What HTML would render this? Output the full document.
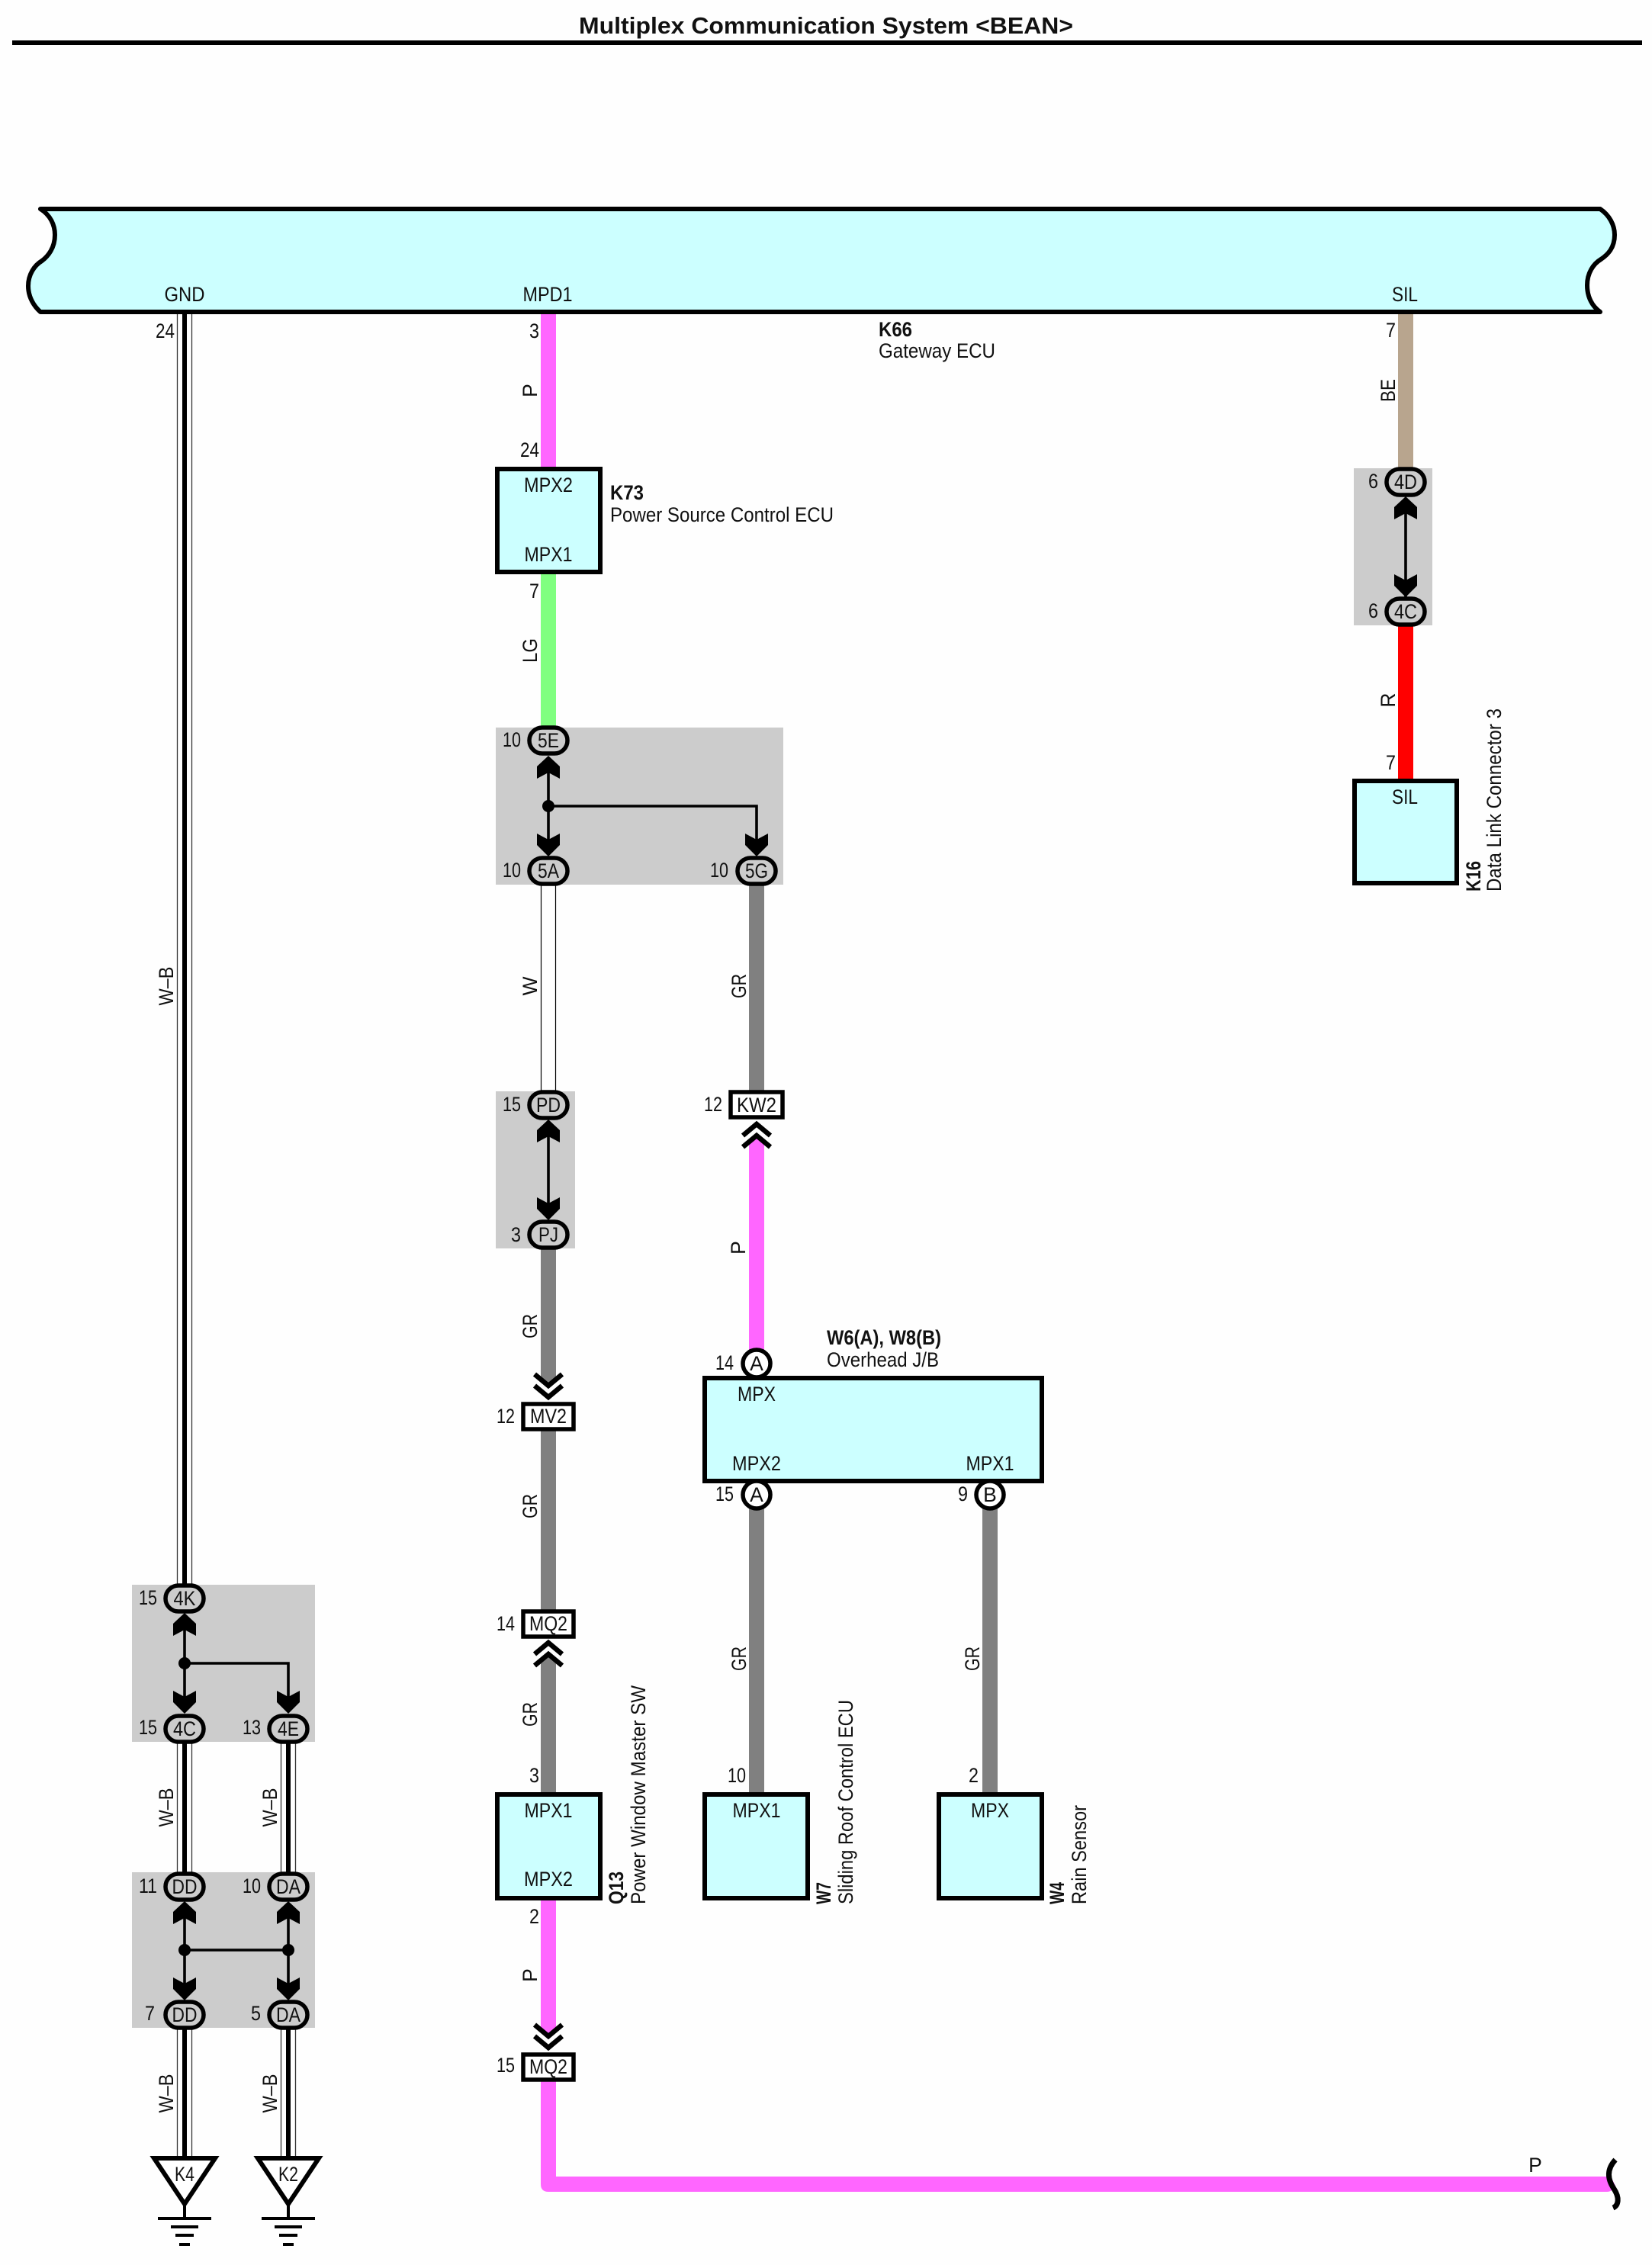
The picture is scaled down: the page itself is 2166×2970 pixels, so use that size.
<!DOCTYPE html>
<html><head><meta charset="utf-8"><style>
html,body{margin:0;padding:0;background:#fefefe}
svg{display:block}
text{font-family:"Liberation Sans",sans-serif;font-size:26.5px;fill:#111}
.m{text-anchor:middle}.e{text-anchor:end}.b{font-weight:bold}
</style></head><body>
<svg width="2166" height="2970" viewBox="0 0 2166 2970" xmlns="http://www.w3.org/2000/svg">
<defs>
<polygon id="au" points="0,0 15,14 15,30 0,22 -15,30 -15,14" fill="#000"/>
<polygon id="ad" points="0,0 15,-15 15,-30 0,-22 -15,-30 -15,-15" fill="#000"/>
<g id="cd" fill="none" stroke="#000" stroke-width="6.5"><polyline points="-18,-20 0,-5 18,-20"/><polyline points="-18,-35 0,-20 18,-35"/></g>
<g id="cu" fill="none" stroke="#000" stroke-width="6.5"><polyline points="-18,20 0,5 18,20"/><polyline points="-18,35 0,20 18,35"/></g>
<rect id="ov" x="-25" y="-17" width="50" height="34" rx="17" fill="#ccc" stroke="#000" stroke-width="5.5"/>
<g id="gnd"><polygon points="-40,0 40,0 0,60" fill="#fff" stroke="#000" stroke-width="6"/><path d="M0 60V79" stroke="#000" stroke-width="4"/><path d="M-35 79H35" stroke="#000" stroke-width="4"/><path d="M-18 90H18" stroke="#000" stroke-width="4"/><path d="M-12 101H12" stroke="#000" stroke-width="4"/><path d="M-7 113H7" stroke="#000" stroke-width="4"/></g>
</defs>
<rect width="2166" height="2970" fill="#fefefe"/>
<text x="1083" y="44" class="m b" style="font-size:31px" textLength="648" lengthAdjust="spacingAndGlyphs">Multiplex Communication System &lt;BEAN&gt;</text>
<rect x="16" y="53" width="2137" height="6" fill="#000"/>

<!-- grey groups -->
<rect x="650" y="954" width="377" height="206" fill="#ccc"/>
<rect x="650" y="1431" width="104" height="206" fill="#ccc"/>
<rect x="1775" y="614" width="103" height="206" fill="#ccc"/>
<rect x="173" y="2078" width="240" height="206" fill="#ccc"/>
<rect x="173" y="2455" width="240" height="204" fill="#ccc"/>

<!-- coloured wires -->
<rect x="709" y="409" width="20" height="205" fill="#ff66ff"/>
<rect x="709" y="750" width="20" height="204" fill="#80ff80"/>
<rect x="982" y="1160" width="20" height="270" fill="#808080"/>
<path d="M709 1638V1806L719 1817L729 1806V1638Z" fill="#808080"/>
<rect x="709" y="1876" width="20" height="236" fill="#808080"/>
<path d="M709 2352V2180L719 2169L729 2180V2352Z" fill="#808080"/>
<path d="M982 1784V1500L992 1489L1002 1500V1784Z" fill="#ff66ff"/>
<rect x="982" y="1978" width="20" height="374" fill="#808080"/>
<rect x="1288" y="1978" width="20" height="374" fill="#808080"/>
<path d="M709 2490V2659L719 2670L729 2659V2490Z" fill="#ff66ff"/>
<path d="M709 2729V2864Q709 2874 719 2874H2107Q2114 2874 2118 2866L2112 2854H729V2729Z" fill="#ff66ff"/>
<rect x="1833" y="409" width="20" height="206" fill="#b8a58e"/>
<rect x="1833" y="820" width="20" height="204" fill="#ff0000"/>

<!-- white wire -->
<g fill="#fff" stroke="#000" stroke-width="1.2"><rect x="709.5" y="1158" width="19" height="274"/></g>
<!-- W-B wires -->
<g fill="#fff" stroke="#333" stroke-width="1.3">
<rect x="232.5" y="409" width="19" height="1670"/>
<rect x="232.5" y="2284" width="19" height="172"/>
<rect x="368.5" y="2284" width="19" height="172"/>
<rect x="232.5" y="2659" width="19" height="172"/>
<rect x="368.5" y="2659" width="19" height="172"/>
</g>
<g fill="#000">
<rect x="239" y="409" width="6" height="1670"/>
<rect x="239" y="2284" width="6" height="172"/>
<rect x="375" y="2284" width="6" height="172"/>
<rect x="239" y="2659" width="6" height="172"/>
<rect x="375" y="2659" width="6" height="172"/>
</g>

<!-- main bus -->
<path d="M53 274H2098C2110 282 2117 295 2117 308C2117 325 2108 334 2099 340C2089 346 2081 358 2081 374C2081 390 2088 402 2098 409H53C45 402 37 390 37 375C37 360 45 348 55 342C63 336 72 325 72 308C72 295 66 282 53 274Z" fill="#ccffff" stroke="#000" stroke-width="6" stroke-linejoin="round"/>

<!-- boxes -->
<g fill="#ccffff" stroke="#000" stroke-width="6">
<rect x="652" y="615" width="135" height="135"/>
<rect x="924" y="1807" width="442" height="135"/>
<rect x="652" y="2353" width="135" height="136"/>
<rect x="924" y="2353" width="135" height="136"/>
<rect x="1231" y="2353" width="135" height="136"/>
<rect x="1776" y="1024" width="134" height="134"/>
</g>
<g fill="#fff" stroke="#000" stroke-width="5.5">
<rect x="686" y="1841" width="66" height="33"/>
<rect x="958" y="1432" width="68" height="33"/>
<rect x="686" y="2113" width="66" height="33"/>
<rect x="686" y="2694" width="66" height="33"/>
<circle cx="992" cy="1788" r="18"/>
<circle cx="992" cy="1960" r="18"/>
<circle cx="1298" cy="1960" r="18"/>
</g>

<!-- internal splices -->
<g stroke="#000" fill="none">
<path d="M719 1000V1110M992 1110V1057H719" stroke-width="3.6"/>
<path d="M719 1480V1590" stroke-width="3.6"/>
<path d="M1843 660V790" stroke-width="3.6"/>
<path d="M242 2125V2235M378 2235V2181H242" stroke-width="3.6"/>
<path d="M242 2503V2610M378 2503V2610M242 2557H378" stroke-width="3.6"/>
</g>
<g fill="#000">
<circle cx="719" cy="1057" r="8"/><circle cx="242" cy="2181" r="8"/><circle cx="242" cy="2557" r="8"/><circle cx="378" cy="2557" r="8"/>
</g>
<use href="#au" x="719" y="991"/><use href="#ad" x="719" y="1123"/><use href="#ad" x="992" y="1123"/>
<use href="#au" x="719" y="1468"/><use href="#ad" x="719" y="1600"/>
<use href="#au" x="1843" y="651"/><use href="#ad" x="1843" y="783"/>
<use href="#au" x="242" y="2115"/><use href="#ad" x="242" y="2247"/><use href="#ad" x="378" y="2247"/>
<use href="#au" x="242" y="2493"/><use href="#au" x="378" y="2493"/><use href="#ad" x="242" y="2623"/><use href="#ad" x="378" y="2623"/>

<use href="#ov" x="719" y="971"/><use href="#ov" x="719" y="1142"/><use href="#ov" x="992" y="1142"/>
<use href="#ov" x="719" y="1449"/><use href="#ov" x="719" y="1619"/>
<use href="#ov" x="1843" y="632"/><use href="#ov" x="1843" y="802"/>
<use href="#ov" x="242" y="2096"/><use href="#ov" x="242" y="2267"/><use href="#ov" x="378" y="2267"/>
<use href="#ov" x="242" y="2474"/><use href="#ov" x="378" y="2474"/><use href="#ov" x="242" y="2642"/><use href="#ov" x="378" y="2642"/>

<use href="#cd" x="719" y="1837"/><use href="#cu" x="992" y="1469"/><use href="#cu" x="719" y="2149"/><use href="#cd" x="719" y="2690"/>

<use href="#gnd" x="242" y="2830"/><use href="#gnd" x="378" y="2830"/>
<path d="M2118 2832C2106 2845 2108 2858 2116 2870C2124 2882 2122 2892 2115 2895" fill="none" stroke="#000" stroke-width="7"/>

<!-- bus labels -->
<text x="242" y="395" class="m" textLength="53" lengthAdjust="spacingAndGlyphs">GND</text>
<text x="718" y="395" class="m" textLength="65" lengthAdjust="spacingAndGlyphs">MPD1</text>
<text x="1842" y="395" class="m" textLength="34" lengthAdjust="spacingAndGlyphs">SIL</text>
<text x="1152" y="441" class="b" textLength="44" lengthAdjust="spacingAndGlyphs">K66</text>
<text x="1152" y="469" textLength="153" lengthAdjust="spacingAndGlyphs">Gateway ECU</text>
<text x="800" y="655" class="b" textLength="44" lengthAdjust="spacingAndGlyphs">K73</text>
<text x="800" y="684" textLength="293" lengthAdjust="spacingAndGlyphs">Power Source Control ECU</text>

<!-- pin numbers -->
<g class="pins">
<text x="229" y="443" class="e" textLength="25" lengthAdjust="spacingAndGlyphs">24</text>
<text x="707" y="443" class="e" textLength="13" lengthAdjust="spacingAndGlyphs">3</text>
<text x="707" y="599" class="e" textLength="25" lengthAdjust="spacingAndGlyphs">24</text>
<text x="707" y="784" class="e" textLength="13" lengthAdjust="spacingAndGlyphs">7</text>
<text x="683" y="979" class="e" textLength="24" lengthAdjust="spacingAndGlyphs">10</text>
<text x="683" y="1150" class="e" textLength="24" lengthAdjust="spacingAndGlyphs">10</text>
<text x="955" y="1150" class="e" textLength="24" lengthAdjust="spacingAndGlyphs">10</text>
<text x="683" y="1457" class="e" textLength="24" lengthAdjust="spacingAndGlyphs">15</text>
<text x="683" y="1628" class="e" textLength="13" lengthAdjust="spacingAndGlyphs">3</text>
<text x="675" y="1866" class="e" textLength="24" lengthAdjust="spacingAndGlyphs">12</text>
<text x="947" y="1457" class="e" textLength="24" lengthAdjust="spacingAndGlyphs">12</text>
<text x="962" y="1796" class="e" textLength="24" lengthAdjust="spacingAndGlyphs">14</text>
<text x="962" y="1968" class="e" textLength="24" lengthAdjust="spacingAndGlyphs">15</text>
<text x="1269" y="1968" class="e" textLength="13" lengthAdjust="spacingAndGlyphs">9</text>
<text x="675" y="2138" class="e" textLength="24" lengthAdjust="spacingAndGlyphs">14</text>
<text x="707" y="2337" class="e" textLength="13" lengthAdjust="spacingAndGlyphs">3</text>
<text x="978" y="2337" class="e" textLength="24" lengthAdjust="spacingAndGlyphs">10</text>
<text x="1283" y="2337" class="e" textLength="13" lengthAdjust="spacingAndGlyphs">2</text>
<text x="707" y="2522" class="e" textLength="13" lengthAdjust="spacingAndGlyphs">2</text>
<text x="675" y="2717" class="e" textLength="24" lengthAdjust="spacingAndGlyphs">15</text>
<text x="1830" y="442" class="e" textLength="13" lengthAdjust="spacingAndGlyphs">7</text>
<text x="1807" y="640" class="e" textLength="13" lengthAdjust="spacingAndGlyphs">6</text>
<text x="1807" y="810" class="e" textLength="13" lengthAdjust="spacingAndGlyphs">6</text>
<text x="1830" y="1009" class="e" textLength="13" lengthAdjust="spacingAndGlyphs">7</text>
<text x="206" y="2104" class="e" textLength="24" lengthAdjust="spacingAndGlyphs">15</text>
<text x="206" y="2274" class="e" textLength="24" lengthAdjust="spacingAndGlyphs">15</text>
<text x="342" y="2274" class="e" textLength="24" lengthAdjust="spacingAndGlyphs">13</text>
<text x="206" y="2482" class="e" textLength="24" lengthAdjust="spacingAndGlyphs">11</text>
<text x="342" y="2482" class="e" textLength="24" lengthAdjust="spacingAndGlyphs">10</text>
<text x="203" y="2649" class="e" textLength="13" lengthAdjust="spacingAndGlyphs">7</text>
<text x="342" y="2649" class="e" textLength="13" lengthAdjust="spacingAndGlyphs">5</text>
</g>

<!-- connector labels -->
<text x="719" y="980" class="m" textLength="28" lengthAdjust="spacingAndGlyphs">5E</text>
<text x="719" y="1151" class="m" textLength="28" lengthAdjust="spacingAndGlyphs">5A</text>
<text x="992" y="1151" class="m" textLength="30" lengthAdjust="spacingAndGlyphs">5G</text>
<text x="719" y="1458" class="m" textLength="32" lengthAdjust="spacingAndGlyphs">PD</text>
<text x="719" y="1628" class="m" textLength="26" lengthAdjust="spacingAndGlyphs">PJ</text>
<text x="719" y="1866" class="m" textLength="48" lengthAdjust="spacingAndGlyphs">MV2</text>
<text x="992" y="1458" class="m" textLength="52" lengthAdjust="spacingAndGlyphs">KW2</text>
<text x="719" y="2138" class="m" textLength="50" lengthAdjust="spacingAndGlyphs">MQ2</text>
<text x="719" y="2719" class="m" textLength="50" lengthAdjust="spacingAndGlyphs">MQ2</text>
<text x="992" y="1797" class="m">A</text>
<text x="992" y="1969" class="m">A</text>
<text x="1298" y="1969" class="m">B</text>
<text x="1843" y="641" class="m" textLength="30" lengthAdjust="spacingAndGlyphs">4D</text>
<text x="1843" y="811" class="m" textLength="30" lengthAdjust="spacingAndGlyphs">4C</text>
<text x="242" y="2105" class="m" textLength="29" lengthAdjust="spacingAndGlyphs">4K</text>
<text x="242" y="2276" class="m" textLength="30" lengthAdjust="spacingAndGlyphs">4C</text>
<text x="378" y="2276" class="m" textLength="28" lengthAdjust="spacingAndGlyphs">4E</text>
<text x="242" y="2483" class="m" textLength="33" lengthAdjust="spacingAndGlyphs">DD</text>
<text x="378" y="2483" class="m" textLength="32" lengthAdjust="spacingAndGlyphs">DA</text>
<text x="242" y="2651" class="m" textLength="33" lengthAdjust="spacingAndGlyphs">DD</text>
<text x="378" y="2651" class="m" textLength="32" lengthAdjust="spacingAndGlyphs">DA</text>
<text x="242" y="2860" class="m" textLength="26" lengthAdjust="spacingAndGlyphs">K4</text>
<text x="378" y="2860" class="m" textLength="26" lengthAdjust="spacingAndGlyphs">K2</text>

<!-- box labels -->
<text x="719" y="645" class="m" textLength="64" lengthAdjust="spacingAndGlyphs">MPX2</text>
<text x="719" y="736" class="m" textLength="63" lengthAdjust="spacingAndGlyphs">MPX1</text>
<text x="992" y="1837" class="m" textLength="50" lengthAdjust="spacingAndGlyphs">MPX</text>
<text x="992" y="1928" class="m" textLength="64" lengthAdjust="spacingAndGlyphs">MPX2</text>
<text x="1298" y="1928" class="m" textLength="63" lengthAdjust="spacingAndGlyphs">MPX1</text>
<text x="719" y="2383" class="m" textLength="63" lengthAdjust="spacingAndGlyphs">MPX1</text>
<text x="719" y="2473" class="m" textLength="64" lengthAdjust="spacingAndGlyphs">MPX2</text>
<text x="992" y="2383" class="m" textLength="63" lengthAdjust="spacingAndGlyphs">MPX1</text>
<text x="1298" y="2383" class="m" textLength="50" lengthAdjust="spacingAndGlyphs">MPX</text>
<text x="1842" y="1054" class="m" textLength="34" lengthAdjust="spacingAndGlyphs">SIL</text>
<text x="1084" y="1763" class="b" textLength="150" lengthAdjust="spacingAndGlyphs">W6(A), W8(B)</text>
<text x="1084" y="1792" textLength="147" lengthAdjust="spacingAndGlyphs">Overhead J/B</text>
<text x="2013" y="2848" class="m">P</text>

<!-- rotated wire labels -->
<text transform="translate(704 512) rotate(-90)" class="m">P</text>
<text transform="translate(704 853) rotate(-90)" class="m" textLength="32" lengthAdjust="spacingAndGlyphs">LG</text>
<text transform="translate(704 1293) rotate(-90)" class="m">W</text>
<text transform="translate(978 1293) rotate(-90)" class="m" textLength="32" lengthAdjust="spacingAndGlyphs">GR</text>
<text transform="translate(704 1739) rotate(-90)" class="m" textLength="32" lengthAdjust="spacingAndGlyphs">GR</text>
<text transform="translate(977 1636) rotate(-90)" class="m">P</text>
<text transform="translate(704 1975) rotate(-90)" class="m" textLength="32" lengthAdjust="spacingAndGlyphs">GR</text>
<text transform="translate(704 2248) rotate(-90)" class="m" textLength="32" lengthAdjust="spacingAndGlyphs">GR</text>
<text transform="translate(978 2175) rotate(-90)" class="m" textLength="32" lengthAdjust="spacingAndGlyphs">GR</text>
<text transform="translate(1284 2175) rotate(-90)" class="m" textLength="32" lengthAdjust="spacingAndGlyphs">GR</text>
<text transform="translate(704 2590) rotate(-90)" class="m">P</text>
<text transform="translate(1829 512) rotate(-90)" class="m" textLength="30" lengthAdjust="spacingAndGlyphs">BE</text>
<text transform="translate(1829 918) rotate(-90)" class="m">R</text>
<text transform="translate(227 1293) rotate(-90)" class="m" textLength="51" lengthAdjust="spacingAndGlyphs">W–B</text>
<text transform="translate(227 2370) rotate(-90)" class="m" textLength="51" lengthAdjust="spacingAndGlyphs">W–B</text>
<text transform="translate(363 2370) rotate(-90)" class="m" textLength="51" lengthAdjust="spacingAndGlyphs">W–B</text>
<text transform="translate(227 2745) rotate(-90)" class="m" textLength="51" lengthAdjust="spacingAndGlyphs">W–B</text>
<text transform="translate(363 2745) rotate(-90)" class="m" textLength="51" lengthAdjust="spacingAndGlyphs">W–B</text>

<!-- rotated component labels -->
<text transform="translate(817 2497) rotate(-90)" class="b" textLength="43" lengthAdjust="spacingAndGlyphs">Q13</text>
<text transform="translate(846 2497) rotate(-90)" textLength="287" lengthAdjust="spacingAndGlyphs">Power Window Master SW</text>
<text transform="translate(1089 2497) rotate(-90)" class="b" textLength="29" lengthAdjust="spacingAndGlyphs">W7</text>
<text transform="translate(1118 2497) rotate(-90)" textLength="268" lengthAdjust="spacingAndGlyphs">Sliding Roof Control ECU</text>
<text transform="translate(1395 2497) rotate(-90)" class="b" textLength="29" lengthAdjust="spacingAndGlyphs">W4</text>
<text transform="translate(1424 2497) rotate(-90)" textLength="130" lengthAdjust="spacingAndGlyphs">Rain Sensor</text>
<text transform="translate(1941 1169) rotate(-90)" class="b" textLength="40" lengthAdjust="spacingAndGlyphs">K16</text>
<text transform="translate(1968 1169) rotate(-90)" textLength="240" lengthAdjust="spacingAndGlyphs">Data Link Connector 3</text>
</svg>
</body></html>
